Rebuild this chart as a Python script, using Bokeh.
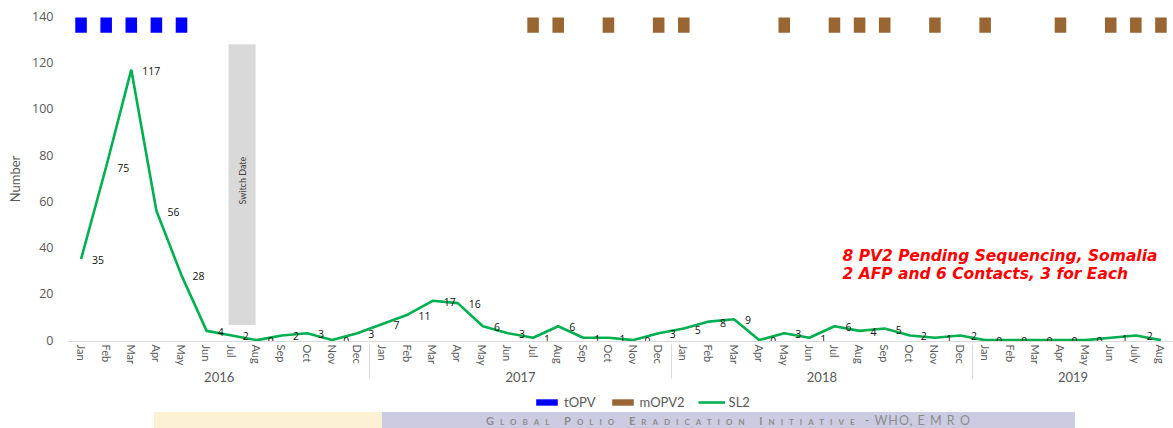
from bokeh.plotting import figure
from bokeh.models import FactorRange, Range1d, Legend, LegendItem, Label, FixedTicker, Div
from bokeh.layouts import column
from bokeh.embed import file_html
from bokeh.resources import INLINE
from bokeh.core.properties import value
import math

# ---------------- data ----------------
years = ["2016", "2017", "2018", "2019"]
months_full = ["Jan", "Feb", "Mar", "Apr", "May", "Jun", "Jul", "Aug", "Sep", "Oct", "Nov", "Dec"]
months_2019 = ["Jan", "Feb", "Mar", "Apr", "May", "Jun", "July", "Aug"]

sl2_2016 = [35, 75, 117, 56, 28, 4, 2, 0, 2, 3, 0, 3]
sl2_2017 = [7, 11, 17, 16, 6, 3, 1, 6, 1, 1, 0, 3]
sl2_2018 = [5, 8, 9, 0, 3, 1, 6, 4, 5, 2, 1, 2]
sl2_2019 = [0, 0, 0, 0, 0, 1, 2, 0]

topv_rounds = [("2016", "Jan"), ("2016", "Feb"), ("2016", "Mar"), ("2016", "Apr"), ("2016", "May")]
mopv2_rounds = [("2017", "Jul"), ("2017", "Aug"), ("2017", "Oct"), ("2017", "Dec"),
                ("2018", "Jan"), ("2018", "May"), ("2018", "Jul"), ("2018", "Aug"), ("2018", "Sep"), ("2018", "Nov"),
                ("2019", "Jan"), ("2019", "Apr"), ("2019", "Jun"), ("2019", "July"), ("2019", "Aug")]

y_ticks = [0, 20, 40, 60, 80, 100, 120, 140]
note_line1 = "8 PV2 Pending Sequencing, Somalia"
note_line2 = "2 AFP and 6 Contacts, 3 for Each"
switch_text = "Switch Date"
series_names = ["tOPV", "mOPV2", "SL2"]
footer_small_caps = "Global Polio Eradication Initiative"
footer_org = "- WHO, E M R O"

# ---------------- build ----------------
factors = ([("2016", m) for m in months_full] + [("2017", m) for m in months_full] +
           [("2018", m) for m in months_full] + [("2019", m) for m in months_2019])
sl2 = sl2_2016 + sl2_2017 + sl2_2018 + sl2_2019

GRAY = "#595959"
C_TOPV, C_MOPV, C_SL2 = "#0000ff", "#996633", "#00b050"
W = 1173

p = figure(x_range=FactorRange(*factors, factor_padding=0, group_padding=0,
                               subgroup_padding=0, range_padding=0),
           y_range=Range1d(-0.6, 140),
           width=W, height=393, output_backend="svg", toolbar_location=None,
           min_border_left=68, min_border_right=0, min_border_top=16, min_border_bottom=52)
p.outline_line_color = None
p.grid.visible = False
p.background_fill_color = "white"
p.border_fill_color = "white"

# switch date band
p.quad(left=[6.37], right=[7.45], bottom=[6.5], top=[128], fill_color="#d9d9d9", line_color=None)
p.text(x=[6.91], y=[69], text=[switch_text], angle=math.pi / 2, text_align="center",
       text_baseline="middle", text_font=value("Lato"), text_font_size="9px", text_color="#404040")

# campaign markers
p.vbar(x=topv_rounds, width=0.46, bottom=133, top=139.6, fill_color=C_TOPV, line_color=None)
p.vbar(x=mopv2_rounds, width=0.46, bottom=133, top=139.6, fill_color=C_MOPV, line_color=None)

# SL2 line
p.line(x=factors, y=sl2, line_color=C_SL2, line_width=2.6)
# value labels (the last one falls past the chart's right edge in the original, so it is not drawn)
p.text(x=factors[:-1], y=sl2[:-1], text=[str(v) for v in sl2[:-1]], x_offset=11, y_offset=1,
       text_align="left", text_baseline="middle", text_font=value("Open Sans"),
       text_font_size="10.5px", text_color="#111111")

# note
for yy, t in [(36.2, note_line1), (28.4, note_line2)]:
    p.add_layout(Label(x=30.82, y=yy, text=t, text_align="left", text_baseline="middle",
                       text_font="DejaVu Sans", text_font_size="15.5px", text_font_style="bold italic",
                       text_color="#ff0000"))

# y axis
ya = p.yaxis[0]
ya.ticker = FixedTicker(ticks=y_ticks)
ya.axis_line_color = None
ya.major_tick_line_color = None
ya.minor_tick_line_color = None
ya.major_tick_out = 0
ya.major_tick_in = 0
ya.major_label_standoff = 15
ya.major_label_text_font = "Open Sans"
ya.major_label_text_font_size = "12.5px"
ya.major_label_text_color = GRAY
ya.axis_label = "Number"
ya.axis_label_text_font = "Lato"
ya.axis_label_text_font_size = "13px"
ya.axis_label_text_font_style = "normal"
ya.axis_label_text_color = GRAY
ya.axis_label_standoff = 6

# x axis
xa = p.xaxis[0]
xa.major_label_orientation = "vertical"
xa.major_label_text_font = "Lato"
xa.major_label_text_font_size = "11px"
xa.major_label_text_color = GRAY
xa.major_label_standoff = 3
xa.major_tick_out = 0
xa.major_tick_in = 0
xa.group_text_font = "Lato"
xa.group_text_font_size = "13px"
xa.group_text_font_style = "normal"
xa.group_text_color = GRAY
xa.axis_line_color = "#d9d9d9"
xa.major_tick_line_color = None
xa.minor_tick_line_color = None
xa.separator_line_color = "#d9d9d9"
xa.separator_line_width = 1

# legend strip (own small plot, its frame aligned with the chart frame)
lf = figure(width=W, height=19, x_range=Range1d(0, 1), y_range=Range1d(0, 1),
            output_backend="svg", toolbar_location=None, min_border=0,
            x_axis_location=None, y_axis_location=None)
lf.grid.visible = False
lf.outline_line_color = None
lr1 = lf.vbar(x=[5], top=[5], width=0.1, fill_color=C_TOPV, line_color=None)
lr2 = lf.vbar(x=[5], top=[5], width=0.1, fill_color=C_MOPV, line_color=None)
lr3 = lf.line(x=[5, 6], y=[5, 5], line_color=C_SL2, line_width=2.6)
legend = Legend(items=[LegendItem(label=series_names[0], renderers=[lr1]),
                       LegendItem(label=series_names[1], renderers=[lr2]),
                       LegendItem(label=series_names[2], renderers=[lr3])],
                orientation="horizontal", location=(465, 2),
                border_line_color=None, background_fill_alpha=0,
                glyph_width=27, glyph_height=8, label_standoff=4, spacing=13,
                padding=0, margin=0, label_height=14,
                label_text_font="Lato", label_text_font_size="13px", label_text_color=GRAY)
lf.add_layout(legend)

# footer band (slide decoration)
footer_html = (
    '<div style="position:relative;width:1173px;height:16px;overflow:hidden;">'
    '<div style="position:absolute;left:154px;top:0;width:228px;height:16px;background:#fdf1d3;"></div>'
    '<div style="position:absolute;left:382px;top:0;width:693px;height:16px;background:#cbcce1;'
    'text-align:center;line-height:17px;color:#8c8c8c;font-family:Lato;white-space:nowrap;">'
    '<span style="font-variant:small-caps;letter-spacing:6px;font-size:11px;font-weight:bold;">'
    + footer_small_caps + '</span>'
    '<span style="font-size:12.5px;letter-spacing:1px;">&nbsp;' + footer_org + '</span>'
    '</div></div>'
)
f = Div(text=footer_html, width=W, height=16, margin=0)

layout = column(p, lf, f, spacing=0)
open("out.html", "w").write(file_html(layout, INLINE))
